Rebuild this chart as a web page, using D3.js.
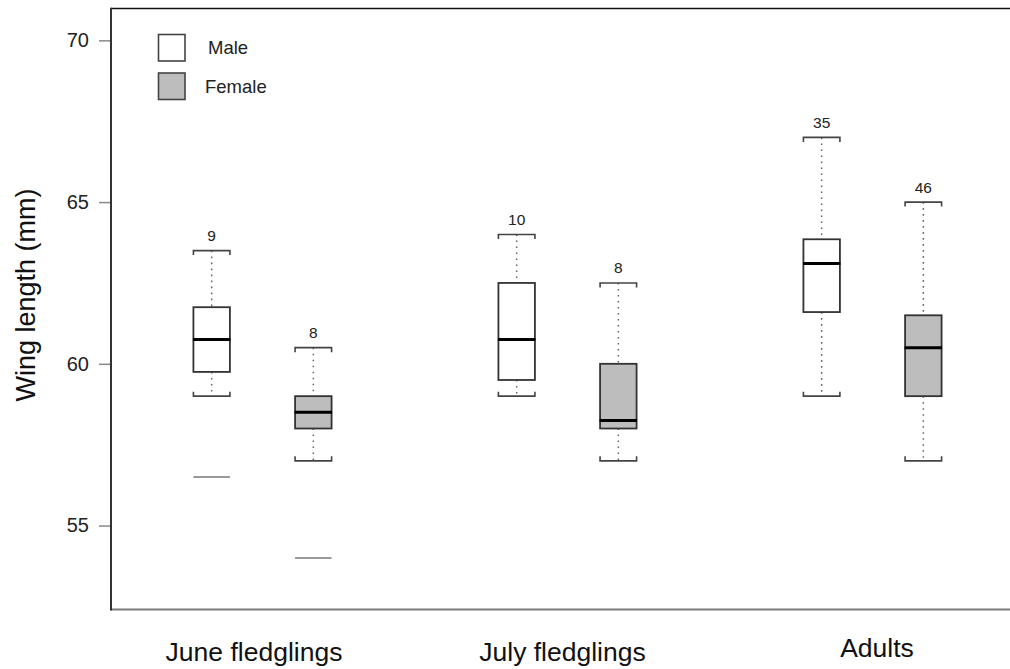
<!DOCTYPE html>
<html>
<head>
<meta charset="utf-8">
<script src="https://cdn.jsdelivr.net/npm/d3@7"></script>
<style>
  html, body { margin: 0; padding: 0; background: #fff; }
  svg { display: block; font-family: "Liberation Sans", Arial, Helvetica, sans-serif; }
</style>
</head>
<body>
<svg id="chart" width="1010" height="669"></svg>
<script>
// ---- data ----
const groups = ["June fledglings", "July fledglings", "Adults"];
const sexes = ["Male", "Female"];
const counts       = [[9, 8], [10, 8], [35, 46]];
const whiskerLow   = [[59, 57], [59, 57], [59, 57]];
const q1           = [[59.75, 58], [59.5, 58], [61.6, 59]];
const medians      = [[60.75, 58.5], [60.75, 58.25], [63.1, 60.5]];
const q3           = [[61.75, 59], [62.5, 60], [63.85, 61.5]];
const whiskerHigh  = [[63.5, 60.5], [64, 62.5], [67, 65]];
const outliers     = [[[56.5], [54]], [[], []], [[], []]];
const yTicks = [55, 60, 65, 70];
const yTitle = "Wing length (mm)";

// ---- layout ----
const W = 1010, H = 669;
const plotL = 111, plotT = 8.5, plotB = 609.5, plotR = W;
const svg = d3.select("#chart");

const y = d3.scaleLinear().domain([52.42, 71.0]).range([609, 8]);
const x0 = d3.scaleBand().domain(groups).range([110, 1025]);
const x1 = d3.scalePoint().domain(sexes).range([x0.bandwidth() / 3, 2 * x0.bandwidth() / 3]);
const fill = d3.scaleOrdinal().domain(sexes).range(["#ffffff", "#bdbdbd"]);
const boxW = 36.5;

// build records
const recs = [];
groups.forEach((g, gi) => sexes.forEach((s, si) => {
  recs.push({
    g, s, n: counts[gi][si], lo: whiskerLow[gi][si], q1: q1[gi][si], med: medians[gi][si],
    q3: q3[gi][si], hi: whiskerHigh[gi][si], out: outliers[gi][si],
    cx: x0(g) + x1(s)
  });
}));

// frame
svg.append("line").attr("x1", plotL).attr("x2", plotR).attr("y1", plotT).attr("y2", plotT)
  .attr("stroke", "#111").attr("stroke-width", 1.6);
svg.append("line").attr("x1", plotL).attr("x2", plotR).attr("y1", plotB).attr("y2", plotB)
  .attr("stroke", "#7a7a7a").attr("stroke-width", 2.2);

// y axis
const yAxis = d3.axisLeft(y).tickValues(yTicks).tickSize(12).tickPadding(10).tickFormat(d3.format("d"));
const ga = svg.append("g").attr("transform", `translate(${plotL},0)`).call(yAxis);
ga.select(".domain").remove();
ga.selectAll(".tick line").attr("stroke", "#888").attr("stroke-width", 1.5);
ga.selectAll(".tick text").attr("font-size", 20).attr("fill", "#222")
  .attr("font-family", "Liberation Sans, Arial, sans-serif");
svg.append("line").attr("x1", plotL).attr("x2", plotL).attr("y1", plotT - 0.8).attr("y2", plotB + 1)
  .attr("stroke", "#333").attr("stroke-width", 2);

// y title
svg.append("text").attr("transform", "translate(34.5,295) rotate(-90)")
  .attr("text-anchor", "middle").attr("font-size", 27).attr("fill", "#111").text(yTitle);

// x labels
const labelDx = [-8.5, -5, 4.5];
const labelY = [661, 661, 657];
svg.append("g").selectAll("text").data(groups).join("text")
  .attr("x", (d, i) => x0(d) + x0.bandwidth() / 2 + labelDx[i])
  .attr("y", (d, i) => labelY[i])
  .attr("text-anchor", "middle").attr("font-size", 26.5).attr("fill", "#111").text(d => d);

// boxes
const bx = svg.append("g").selectAll("g").data(recs).join("g");
// whiskers (dotted)
bx.append("line").attr("x1", d => d.cx).attr("x2", d => d.cx)
  .attr("y1", d => y(d.hi)).attr("y2", d => y(d.q3))
  .attr("stroke", "#666").attr("stroke-width", 1.5).attr("stroke-dasharray", "1.6,4.4");
bx.append("line").attr("x1", d => d.cx).attr("x2", d => d.cx)
  .attr("y1", d => y(d.q1)).attr("y2", d => y(d.lo))
  .attr("stroke", "#666").attr("stroke-width", 1.5).attr("stroke-dasharray", "1.6,4.4");
// caps (brackets)
bx.append("path").attr("d", d => {
  const a = d.cx - boxW / 2, b = d.cx + boxW / 2, yy = y(d.hi);
  return `M${a},${yy + 4.5}V${yy}H${b}V${yy + 4.5}`;
}).attr("fill", "none").attr("stroke", "#444").attr("stroke-width", 1.6);
bx.append("path").attr("d", d => {
  const a = d.cx - boxW / 2, b = d.cx + boxW / 2, yy = y(d.lo);
  return `M${a},${yy - 4.5}V${yy}H${b}V${yy - 4.5}`;
}).attr("fill", "none").attr("stroke", "#444").attr("stroke-width", 1.6);
// box
bx.append("rect").attr("x", d => d.cx - boxW / 2).attr("width", boxW)
  .attr("y", d => y(d.q3)).attr("height", d => y(d.q1) - y(d.q3))
  .attr("fill", d => fill(d.s)).attr("stroke", "#333").attr("stroke-width", 1.8);
// median
bx.append("line").attr("x1", d => d.cx - boxW / 2 - 0.5).attr("x2", d => d.cx + boxW / 2 + 0.5)
  .attr("y1", d => y(d.med)).attr("y2", d => y(d.med))
  .attr("stroke", "#000").attr("stroke-width", 3);
// outliers
bx.selectAll(".out").data(d => d.out.map(v => ({ v, cx: d.cx }))).join("line").attr("class", "out")
  .attr("x1", d => d.cx - boxW / 2).attr("x2", d => d.cx + boxW / 2)
  .attr("y1", d => y(d.v)).attr("y2", d => y(d.v))
  .attr("stroke", "#777").attr("stroke-width", 1.5);
// counts
bx.append("text").attr("x", d => d.cx).attr("y", d => y(d.hi) - 9.5)
  .attr("text-anchor", "middle").attr("font-size", 15.5).attr("fill", "#222").text(d => d.n);

// legend
const lg = svg.append("g").selectAll("g").data(sexes).join("g")
  .attr("transform", (d, i) => `translate(158.5,${34.5 + i * 38.5})`);
lg.append("rect").attr("width", 26.5).attr("height", 26.5)
  .attr("fill", d => fill(d)).attr("stroke", "#444").attr("stroke-width", 1.6);
lg.append("text").attr("x", (d, i) => i === 0 ? 49.5 : 46.5).attr("y", 13.25).attr("dy", "0.35em")
  .attr("font-size", 18.5).attr("fill", "#222").text(d => d);
</script>
</body>
</html>
